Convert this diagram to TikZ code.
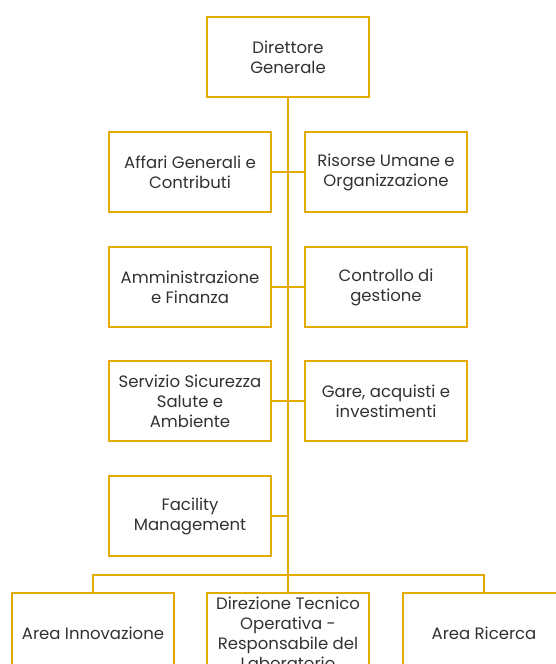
\documentclass[tikz,border=0pt]{standalone}
\usepackage{fontspec}
\setmainfont{Poppins}
\definecolor{gold}{RGB}{228,170,0}
\definecolor{txt}{RGB}{50,50,50}
\pgfdeclarelayer{bg}
\pgfsetlayers{bg,main}
\begin{document}
\begin{tikzpicture}[x=1pt,y=-1pt,
  box/.style={draw=gold,line width=1.6pt,fill=white,minimum width=162pt,minimum height=80pt,
    inner sep=0pt,align=center,text=txt,font=\fontsize{16.5}{20}\selectfont},
  conn/.style={draw=gold,line width=2pt}]
\useasboundingbox (0,0) rectangle (556,664);
\clip (0,0) rectangle (556,664);
% nodes
\node[box] (dg) at (288,57) {Direttore\\Generale};
\node[box] (ag) at (190,172) {Affari Generali e\\Contributi};
\node[box] (ru) at (386,172) {Risorse Umane e\\Organizzazione};
\node[box] (am) at (190,287) {Amministrazione\\e Finanza};
\node[box] (cg) at (386,287) {Controllo di\\gestione};
\node[box] (ss) at (190,401) {Servizio Sicurezza\\Salute e\\Ambiente};
\node[box] (ga) at (386,401) {Gare, acquisti e\\investimenti};
\node[box] (fm) at (190,516) {Facility\\Management};
\node[box] (ai) at (93,633) {Area Innovazione};
\node[box] (dt) at (288,633) {Direzione Tecnico\\Operativa -\\Responsabile del\\Laboratorio};
\node[box] (ar) at (484,633) {Area Ricerca};
% connectors
\coordinate (bar) at (288,575);
\begin{pgfonlayer}{bg}
\path[conn] (dg.south) -- (bar);
\path[conn] (ag.east) -- (ag.east -| dg.south);
\path[conn] (ru.west) -- (ru.west -| dg.south);
\path[conn] (am.east) -- (am.east -| dg.south);
\path[conn] (cg.west) -- (cg.west -| dg.south);
\path[conn] (ss.east) -- (ss.east -| dg.south);
\path[conn] (ga.west) -- (ga.west -| dg.south);
\path[conn] (fm.east) -- (fm.east -| dg.south);
\path[conn] (ai.north) -- (ai.north |- bar) -- (ar.north |- bar) -- (ar.north);
\path[conn] (bar) -- (dt.north);
\end{pgfonlayer}
\end{tikzpicture}
\end{document}
